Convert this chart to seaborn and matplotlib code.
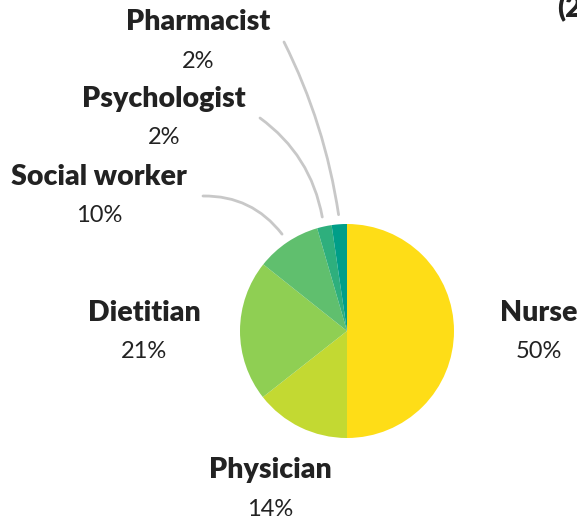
import numpy as np
import matplotlib
matplotlib.use("Agg")
import matplotlib.pyplot as plt
import seaborn as sns

# ── data ─────────────────────────────────────────────────────────────────────
roles = ["Nurse", "Physician", "Dietitian", "Social worker", "Psychologist", "Pharmacist"]
shares = [50.0, 14.4, 21.3, 9.8, 2.2, 2.3]
pct_labels = ["50%", "14%", "21%", "10%", "2%", "2%"]
slice_colors = ["#FEDD17", "#C3D932", "#8FCF53", "#60BF6E", "#2EAF7D", "#009E88"]

# label anchors (pixels, y down) and which labels get a leader line
label_pos = {
    "Nurse": (539, 313),
    "Physician": (270, 470),
    "Dietitian": (144, 313),
    "Social worker": (99, 177),
    "Psychologist": (164, 99),
    "Pharmacist": (198, 22),
}
leader_start = {
    "Social worker": ((203, 196), -0.25),
    "Psychologist": ((260, 118), -0.2),
    "Pharmacist": ((284, 42), -0.08),
}

W, H = 577, 520
sns.set_theme(style="white")
plt.rcParams["font.family"] = ["Lato", "DejaVu Sans"]

fig = plt.figure(figsize=(W / 100, H / 100), dpi=100)
ax = fig.add_axes([0, 0, 1, 1])

cx, cy, r = 347, H - 331, 107
wedges, _ = ax.pie(shares, colors=slice_colors, startangle=90, counterclock=False,
                   center=(cx, cy), radius=r, frame=True,
                   wedgeprops=dict(linewidth=0))
ax.set_xlim(0, W)
ax.set_ylim(0, H)
ax.axis("off")

for role, pct, w in zip(roles, pct_labels, wedges):
    lx, ly = label_pos[role]
    ax.text(lx, H - ly, role, ha="center", va="center", fontsize=20.5,
            fontweight="heavy", color="#222222")
    ax.text(lx, H - ly - 39, pct, ha="center", va="center", fontsize=17,
            fontweight="normal", color="#222222")
    if role in leader_start:
        (sx, sy), rad = leader_start[role]
        mid = np.deg2rad((w.theta1 + w.theta2) / 2)
        ex, ey = cx + 1.09 * r * np.cos(mid), cy + 1.09 * r * np.sin(mid)
        ax.annotate("", xy=(ex, ey), xytext=(sx, H - sy),
                    arrowprops=dict(arrowstyle="-", color="#C8C8C8", lw=2,
                                    connectionstyle=f"arc3,rad={rad}",
                                    shrinkA=0, shrinkB=0))

# partial header text, cut at the right edge as in the source crop
ax.text(557, H - 9, "(2", ha="left", va="center", fontsize=20.5,
        fontweight="heavy", color="#222222")

fig.savefig("out.png", dpi=100)
